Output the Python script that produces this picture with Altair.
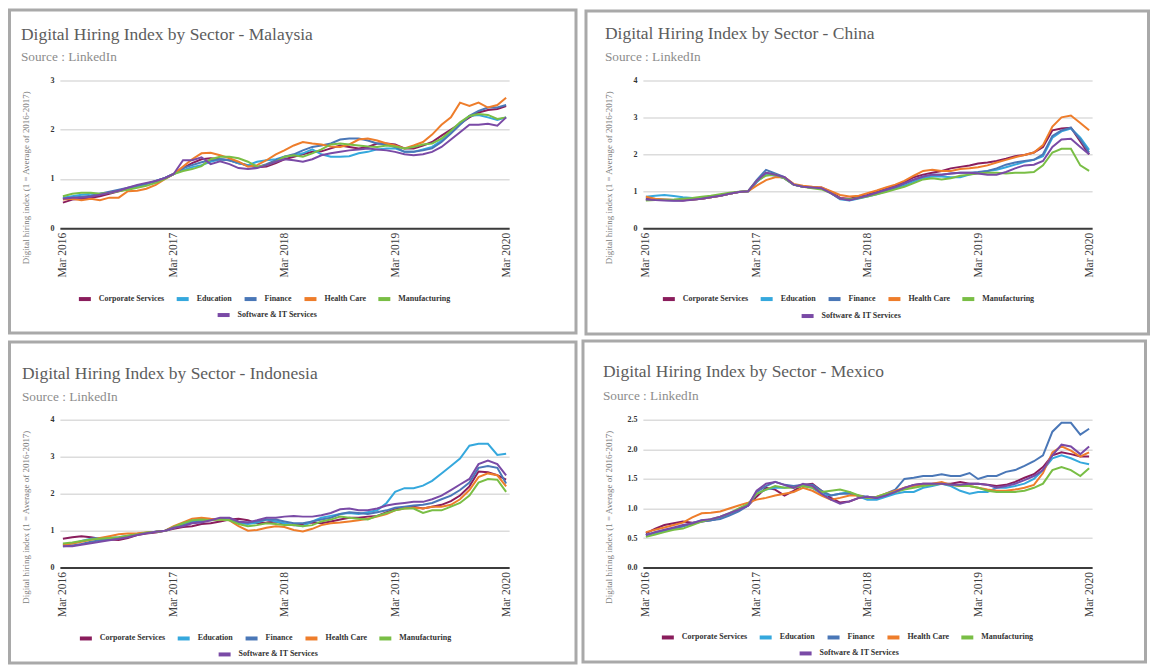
import altair as alt
import pandas as pd

SERIF = "Liberation Serif"
SECTORS = ["Corporate Services", "Education", "Finance", "Health Care",
           "Manufacturing", "Software & IT Services"]
COLORS = ["#8a1d5c", "#35a8dd", "#4a77b7", "#ee7d2b", "#79be45", "#7a4aa6"]
YEARS = [2016, 2017, 2018, 2019, 2020]
DATES = pd.date_range("2016-03-01", periods=49, freq="MS")
Y_TITLE = "Digital hiring index (1 = Average of 2016-2017)"
SUBTITLE = "Source : LinkedIn"

# ---------------- Malaysia ----------------
MY_CORP = [0.52, 0.58, 0.60, 0.62, 0.65, 0.70, 0.75, 0.80, 0.85, 0.90, 0.95, 1.02,
           1.10, 1.22, 1.32, 1.40, 1.42, 1.40, 1.38, 1.32, 1.28, 1.24, 1.25, 1.32,
           1.40, 1.45, 1.50, 1.55, 1.56, 1.62, 1.68, 1.65, 1.62, 1.65, 1.72, 1.72,
           1.70, 1.62, 1.62, 1.68, 1.75, 1.88, 2.00, 2.12, 2.25, 2.35, 2.40, 2.42,
           2.48]
MY_EDU = [0.62, 0.65, 0.68, 0.70, 0.70, 0.72, 0.76, 0.80, 0.84, 0.90, 0.96, 1.02,
          1.10, 1.18, 1.24, 1.28, 1.35, 1.40, 1.38, 1.32, 1.28, 1.35, 1.38, 1.40,
          1.45, 1.48, 1.52, 1.60, 1.50, 1.45, 1.45, 1.46, 1.52, 1.55, 1.60, 1.62,
          1.62, 1.55, 1.55, 1.60, 1.65, 1.78, 1.95, 2.12, 2.28, 2.30, 2.25, 2.20,
          2.25]
MY_FIN = [0.60, 0.62, 0.64, 0.66, 0.70, 0.74, 0.78, 0.82, 0.86, 0.90, 0.96, 1.02,
          1.10, 1.22, 1.28, 1.34, 1.38, 1.40, 1.38, 1.34, 1.26, 1.24, 1.30, 1.38,
          1.45, 1.50, 1.58, 1.65, 1.68, 1.72, 1.80, 1.82, 1.82, 1.78, 1.72, 1.70,
          1.65, 1.55, 1.55, 1.58, 1.62, 1.75, 1.92, 2.10, 2.28, 2.38, 2.45, 2.45,
          2.50]
MY_HEALTH = [0.58, 0.60, 0.57, 0.60, 0.57, 0.62, 0.62, 0.75, 0.76, 0.80, 0.88, 1.00,
             1.10, 1.25, 1.40, 1.52, 1.53, 1.48, 1.42, 1.35, 1.25, 1.28, 1.38, 1.50,
             1.58, 1.68, 1.75, 1.72, 1.70, 1.66, 1.65, 1.70, 1.80, 1.82, 1.78, 1.72,
             1.68, 1.62, 1.68, 1.75, 1.90, 2.10, 2.25, 2.55, 2.48, 2.55, 2.45, 2.50,
             2.65]
MY_MFG = [0.65, 0.70, 0.72, 0.72, 0.70, 0.72, 0.75, 0.78, 0.82, 0.86, 0.92, 1.00,
          1.10, 1.16, 1.20, 1.26, 1.40, 1.45, 1.45, 1.42, 1.35, 1.25, 1.28, 1.35,
          1.45, 1.48, 1.45, 1.52, 1.60, 1.70, 1.72, 1.70, 1.68, 1.66, 1.65, 1.68,
          1.66, 1.62, 1.65, 1.70, 1.72, 1.82, 1.98, 2.15, 2.28, 2.32, 2.30, 2.22,
          2.25]
MY_SW = [0.60, 0.62, 0.62, 0.64, 0.68, 0.72, 0.76, 0.82, 0.88, 0.92, 0.96, 1.02,
         1.10, 1.38, 1.38, 1.44, 1.30, 1.36, 1.30, 1.22, 1.20, 1.22, 1.28, 1.35,
         1.40, 1.38, 1.35, 1.40, 1.48, 1.52, 1.55, 1.58, 1.60, 1.62, 1.60, 1.58,
         1.55, 1.50, 1.48, 1.50, 1.55, 1.65, 1.80, 1.95, 2.10, 2.10, 2.12, 2.08,
         2.25]

# ---------------- China ----------------
CN_CORP = [0.80, 0.78, 0.77, 0.76, 0.75, 0.78, 0.80, 0.84, 0.88, 0.93, 0.98, 1.00,
           1.25, 1.50, 1.45, 1.35, 1.18, 1.12, 1.10, 1.10, 0.98, 0.82, 0.80, 0.85,
           0.90, 1.00, 1.08, 1.15, 1.25, 1.38, 1.45, 1.50, 1.55, 1.62, 1.66, 1.70,
           1.75, 1.78, 1.82, 1.88, 1.95, 1.98, 2.05, 2.20, 2.65, 2.70, 2.72, 2.35,
           2.00]
CN_EDU = [0.85, 0.88, 0.90, 0.87, 0.84, 0.82, 0.82, 0.85, 0.88, 0.93, 0.98, 1.00,
          1.25, 1.45, 1.42, 1.35, 1.18, 1.12, 1.10, 1.08, 0.95, 0.78, 0.75, 0.80,
          0.86, 0.92, 1.00, 1.08, 1.15, 1.25, 1.35, 1.40, 1.40, 1.38, 1.38, 1.45,
          1.50, 1.55, 1.58, 1.65, 1.72, 1.80, 1.85, 1.95, 2.45, 2.62, 2.70, 2.45,
          2.12]
CN_FIN = [0.78, 0.78, 0.76, 0.75, 0.76, 0.78, 0.80, 0.84, 0.88, 0.93, 0.98, 1.00,
          1.30, 1.58, 1.48, 1.38, 1.18, 1.12, 1.10, 1.08, 0.95, 0.80, 0.78, 0.82,
          0.88, 0.95, 1.02, 1.10, 1.20, 1.30, 1.40, 1.45, 1.45, 1.48, 1.50, 1.50,
          1.52, 1.55, 1.62, 1.72, 1.78, 1.82, 1.85, 2.00, 2.50, 2.65, 2.72, 2.40,
          2.05]
CN_HEALTH = [0.85, 0.80, 0.78, 0.76, 0.76, 0.78, 0.80, 0.84, 0.88, 0.93, 0.98, 1.00,
             1.15, 1.30, 1.38, 1.38, 1.20, 1.15, 1.12, 1.10, 1.00, 0.90, 0.86, 0.88,
             0.95, 1.02, 1.10, 1.18, 1.28, 1.42, 1.55, 1.58, 1.55, 1.55, 1.60, 1.62,
             1.65, 1.70, 1.78, 1.85, 1.92, 1.98, 2.05, 2.25, 2.75, 3.00, 3.05, 2.85,
             2.65]
CN_MFG = [0.75, 0.76, 0.77, 0.78, 0.80, 0.82, 0.85, 0.88, 0.92, 0.96, 0.99, 1.00,
          1.28, 1.42, 1.45, 1.35, 1.18, 1.12, 1.08, 1.05, 0.95, 0.80, 0.78, 0.82,
          0.86, 0.92, 0.98, 1.05, 1.12, 1.22, 1.32, 1.35, 1.32, 1.35, 1.42, 1.45,
          1.48, 1.50, 1.50, 1.48, 1.50, 1.50, 1.52, 1.70, 2.05, 2.15, 2.15, 1.70,
          1.55]
CN_SW = [0.78, 0.76, 0.75, 0.74, 0.74, 0.77, 0.80, 0.84, 0.88, 0.93, 0.98, 1.00,
         1.28, 1.50, 1.45, 1.38, 1.18, 1.12, 1.10, 1.08, 0.95, 0.80, 0.76, 0.82,
         0.88, 0.96, 1.04, 1.12, 1.22, 1.32, 1.40, 1.45, 1.45, 1.48, 1.50, 1.50,
         1.48, 1.45, 1.45, 1.52, 1.62, 1.70, 1.72, 1.82, 2.20, 2.40, 2.42, 2.20,
         2.00]

# ---------------- Indonesia ----------------
ID_CORP = [0.78, 0.82, 0.85, 0.82, 0.78, 0.76, 0.75, 0.80, 0.88, 0.92, 0.95, 1.00,
           1.05, 1.10, 1.12, 1.18, 1.20, 1.25, 1.30, 1.32, 1.28, 1.20, 1.22, 1.25,
           1.18, 1.15, 1.18, 1.22, 1.20, 1.25, 1.30, 1.35, 1.35, 1.38, 1.40, 1.50,
           1.58, 1.62, 1.65, 1.60, 1.65, 1.70, 1.80, 1.95, 2.20, 2.60, 2.58, 2.50,
           2.38]
ID_EDU = [0.62, 0.65, 0.72, 0.78, 0.80, 0.80, 0.82, 0.86, 0.90, 0.94, 0.97, 1.00,
          1.08, 1.18, 1.25, 1.28, 1.30, 1.32, 1.30, 1.20, 1.18, 1.22, 1.30, 1.25,
          1.20, 1.15, 1.12, 1.25, 1.35, 1.40, 1.45, 1.48, 1.45, 1.50, 1.55, 1.75,
          2.05, 2.15, 2.15, 2.22, 2.35, 2.55, 2.75, 2.95, 3.30, 3.35, 3.35, 3.05,
          3.08]
ID_FIN = [0.58, 0.60, 0.64, 0.70, 0.74, 0.76, 0.80, 0.84, 0.90, 0.94, 0.97, 1.00,
          1.08, 1.15, 1.22, 1.25, 1.28, 1.32, 1.30, 1.22, 1.22, 1.25, 1.30, 1.30,
          1.25, 1.20, 1.20, 1.25, 1.30, 1.35, 1.45, 1.50, 1.48, 1.45, 1.50, 1.55,
          1.62, 1.65, 1.68, 1.70, 1.75, 1.85, 1.95, 2.10, 2.30, 2.70, 2.75, 2.70,
          2.28]
ID_HEALTH = [0.62, 0.65, 0.70, 0.75, 0.80, 0.85, 0.90, 0.92, 0.93, 0.95, 0.97, 1.00,
             1.12, 1.22, 1.32, 1.35, 1.32, 1.30, 1.28, 1.12, 1.00, 1.02, 1.08, 1.12,
             1.10, 1.02, 0.98, 1.05, 1.15, 1.20, 1.22, 1.25, 1.28, 1.32, 1.38, 1.45,
             1.55, 1.60, 1.62, 1.60, 1.65, 1.65, 1.70, 1.85, 2.10, 2.45, 2.55, 2.50,
             2.20]
ID_MFG = [0.65, 0.68, 0.72, 0.76, 0.78, 0.80, 0.82, 0.86, 0.90, 0.95, 0.97, 1.00,
          1.10, 1.20, 1.28, 1.30, 1.28, 1.30, 1.28, 1.18, 1.12, 1.15, 1.20, 1.18,
          1.15, 1.15, 1.12, 1.15, 1.25, 1.30, 1.38, 1.35, 1.32, 1.30, 1.40, 1.48,
          1.55, 1.60, 1.60, 1.48, 1.55, 1.55, 1.65, 1.75, 1.95, 2.30, 2.40, 2.38,
          2.05]
ID_SW = [0.58, 0.58, 0.62, 0.66, 0.70, 0.74, 0.78, 0.82, 0.88, 0.93, 0.97, 1.00,
         1.08, 1.12, 1.20, 1.22, 1.28, 1.35, 1.35, 1.25, 1.22, 1.28, 1.35, 1.35,
         1.38, 1.40, 1.38, 1.38, 1.42, 1.48, 1.58, 1.60, 1.55, 1.55, 1.60, 1.68,
         1.72, 1.75, 1.78, 1.78, 1.85, 1.95, 2.10, 2.25, 2.40, 2.80, 2.90, 2.80,
         2.50]

# ---------------- Mexico ----------------
MX_CORP = [0.58, 0.66, 0.72, 0.75, 0.78, 0.76, 0.78, 0.80, 0.84, 0.90, 0.98, 1.05,
           1.20, 1.35, 1.32, 1.22, 1.30, 1.40, 1.42, 1.30, 1.18, 1.10, 1.12, 1.18,
           1.20, 1.18, 1.22, 1.28, 1.35, 1.40, 1.42, 1.42, 1.42, 1.42, 1.45, 1.42,
           1.42, 1.40, 1.38, 1.40, 1.45, 1.52, 1.58, 1.70, 1.90, 1.95, 1.92, 1.88,
           1.88]
MX_EDU = [0.55, 0.58, 0.62, 0.66, 0.70, 0.75, 0.80, 0.80, 0.84, 0.90, 0.98, 1.05,
          1.25, 1.32, 1.35, 1.35, 1.38, 1.38, 1.35, 1.25, 1.22, 1.25, 1.28, 1.20,
          1.15, 1.15, 1.20, 1.25, 1.28, 1.28, 1.35, 1.38, 1.42, 1.38, 1.30, 1.25,
          1.28, 1.28, 1.35, 1.35, 1.38, 1.42, 1.50, 1.65, 1.85, 1.90, 1.85, 1.78,
          1.75]
MX_FIN = [0.55, 0.60, 0.63, 0.66, 0.70, 0.74, 0.78, 0.80, 0.82, 0.88, 0.95, 1.05,
          1.28, 1.38, 1.45, 1.40, 1.38, 1.40, 1.40, 1.30, 1.22, 1.25, 1.25, 1.22,
          1.20, 1.18, 1.25, 1.32, 1.50, 1.52, 1.55, 1.55, 1.58, 1.55, 1.55, 1.60,
          1.50, 1.55, 1.55, 1.62, 1.65, 1.72, 1.80, 1.90, 2.30, 2.45, 2.45, 2.25,
          2.35]
MX_HEALTH = [0.60, 0.64, 0.68, 0.72, 0.76, 0.85, 0.92, 0.93, 0.95, 1.00, 1.05, 1.10,
             1.15, 1.18, 1.22, 1.25, 1.28, 1.35, 1.30, 1.22, 1.15, 1.18, 1.22, 1.22,
             1.18, 1.20, 1.25, 1.30, 1.35, 1.38, 1.40, 1.42, 1.45, 1.40, 1.38, 1.38,
             1.35, 1.32, 1.30, 1.30, 1.32, 1.35, 1.40, 1.60, 1.95, 2.05, 1.98, 1.88,
             1.95]
MX_MFG = [0.52, 0.56, 0.60, 0.64, 0.66, 0.72, 0.78, 0.82, 0.86, 0.92, 1.00, 1.08,
          1.25, 1.32, 1.38, 1.35, 1.35, 1.38, 1.35, 1.28, 1.30, 1.32, 1.28, 1.22,
          1.18, 1.20, 1.25, 1.28, 1.32, 1.35, 1.38, 1.40, 1.42, 1.40, 1.38, 1.38,
          1.35, 1.30, 1.28, 1.28, 1.28, 1.30, 1.35, 1.42, 1.65, 1.70, 1.65, 1.55,
          1.68]
MX_SW = [0.55, 0.60, 0.64, 0.68, 0.72, 0.75, 0.80, 0.82, 0.86, 0.92, 0.98, 1.05,
         1.30, 1.42, 1.45, 1.40, 1.35, 1.42, 1.38, 1.25, 1.15, 1.08, 1.12, 1.18,
         1.20, 1.18, 1.22, 1.28, 1.35, 1.40, 1.42, 1.42, 1.42, 1.40, 1.40, 1.42,
         1.42, 1.40, 1.35, 1.38, 1.42, 1.48, 1.55, 1.65, 1.90, 2.08, 2.05, 1.92,
         2.05]

PANELS = [
    dict(title="Digital Hiring Index by Sector - Malaysia",
         series=[MY_CORP, MY_EDU, MY_FIN, MY_HEALTH, MY_MFG, MY_SW],
         ymax=3, yticks=[0, 1, 2, 3], yfmt="d",
         origin=(60, 80), box=(8, 8, 581.5, 337.5), frame=(9.5, 9.5, 577, 333),
         title_xy=(21, 39), sub_xy=(21, 61), leg1=(17, 211), leg2=(156, 227)),
    dict(title="Digital Hiring Index by Sector - China",
         series=[CN_CORP, CN_EDU, CN_FIN, CN_HEALTH, CN_MFG, CN_SW],
         ymax=4, yticks=[0, 1, 2, 3, 4], yfmt="d",
         origin=(640, 79), box=(581.5, 8, 1148, 337.5), frame=(583, 9.5, 1146.5, 333),
         title_xy=(602, 37), sub_xy=(602, 60), leg1=(18, 211), leg2=(157, 228)),
    dict(title="Digital Hiring Index by Sector - Indonesia",
         series=[ID_CORP, ID_EDU, ID_FIN, ID_HEALTH, ID_MFG, ID_SW],
         ymax=4, yticks=[0, 1, 2, 3, 4], yfmt="d",
         origin=(60, 417), box=(8, 337.5, 581.5, 662), frame=(9.5, 339, 577, 660.5),
         title_xy=(22, 376), sub_xy=(22, 398), leg1=(18, 211), leg2=(157, 227)),
    dict(title="Digital Hiring Index by Sector - Mexico",
         series=[MX_CORP, MX_EDU, MX_FIN, MX_HEALTH, MX_MFG, MX_SW],
         ymax=2.5, yticks=[0, 0.5, 1, 1.5, 2, 2.5], yfmt=".1f",
         origin=(643, 418), box=(581.5, 337.5, 1148, 662), frame=(583, 339, 1146.5, 660.5),
         title_xy=(603, 375), sub_xy=(603, 398), leg1=(17, 210), leg2=(155, 226)),
]

for p in PANELS:
    for s in p["series"]:
        assert len(s) == 49, (p["title"], len(s))


def legend(pos):
    return alt.Legend(title=None, orient="none", legendX=pos[0], legendY=pos[1],
                      direction="horizontal", symbolType="stroke", symbolSize=144,
                      symbolStrokeWidth=4, labelFont=SERIF, labelFontSize=8,
                      labelFontWeight="bold", labelColor="#333333", labelOffset=6,
                      columnPadding=4, padding=0)


def value_rect(rect, origin):
    ox, oy = origin
    return dict(x=alt.value(rect[0] - ox), x2=alt.value(rect[2] - ox),
                y=alt.value(rect[1] - oy), y2=alt.value(rect[3] - oy))


def make_panel(p):
    ox, oy = p["origin"]
    rows = [{"date": d, "sector": s, "value": v}
            for s, vals in zip(SECTORS, p["series"]) for d, v in zip(DATES, vals)]
    df = pd.DataFrame(rows)

    x = alt.X("date:T", title=None, scale=alt.Scale(padding=3, nice=False),
              axis=alt.Axis(values=[alt.DateTime(year=yr, month=3, date=1) for yr in YEARS],
                            format="%b %Y", labelAngle=-90, grid=False, ticks=False,
                            domainColor="#3c3c3c", domainWidth=2, labelFont=SERIF,
                            labelFontSize=11.5, labelColor="#3d3d3d", labelPadding=4,
                            labelOverlap=False, labelBound=False, labelFlush=False))
    y = alt.Y("value:Q", title=Y_TITLE,
              scale=alt.Scale(domain=[0, p["ymax"]], nice=False, zero=True),
              axis=alt.Axis(values=p["yticks"], format=p["yfmt"], domain=False, ticks=False,
                            grid=True, gridColor="#dcdcdc", gridWidth=1.5,
                            labelFont=SERIF, labelFontSize=8, labelFontWeight="bold",
                            labelColor="#333333", labelPadding=6,
                            titleFont=SERIF, titleFontSize=9, titleFontWeight="normal",
                            titleColor="#7a7a7a", titleX=-34, titleY=97, titleAngle=-90,
                            titleAlign="center", titleBaseline="middle"))

    main = alt.Chart(df).transform_filter(
        alt.FieldOneOfPredicate(field="sector", oneOf=SECTORS[:5])
    ).mark_line(strokeWidth=2).encode(
        x=x, y=y,
        color=alt.Color("sector:N", sort=SECTORS[:5],
                        scale=alt.Scale(domain=SECTORS[:5], range=COLORS[:5]),
                        legend=legend(p["leg1"])),
    )
    sw = alt.Chart(df).transform_filter(
        alt.FieldEqualPredicate(field="sector", equal=SECTORS[5])
    ).mark_line(strokeWidth=2).encode(
        x=x, y=y,
        color=alt.Color("sector:N",
                        scale=alt.Scale(domain=SECTORS[5:], range=COLORS[5:]),
                        legend=legend(p["leg2"])),
    )

    one = pd.DataFrame({"t": [""]})
    box = alt.Chart(one).mark_rect(opacity=0).encode(**value_rect(p["box"], p["origin"]))
    frame = alt.Chart(one).mark_rect(fillOpacity=0, stroke="#a9a9a9", strokeWidth=3).encode(
        **value_rect(p["frame"], p["origin"]))
    title = alt.Chart(pd.DataFrame({"t": [p["title"]]})).mark_text(
        align="left", baseline="alphabetic", font=SERIF, fontSize=17.5, color="#5d5d5d"
    ).encode(x=alt.value(p["title_xy"][0] - ox), y=alt.value(p["title_xy"][1] - oy), text="t:N")
    sub = alt.Chart(pd.DataFrame({"t": [SUBTITLE]})).mark_text(
        align="left", baseline="alphabetic", font=SERIF, fontSize=13.3, color="#8c8c8c"
    ).encode(x=alt.value(p["sub_xy"][0] - ox), y=alt.value(p["sub_xy"][1] - oy), text="t:N")

    return alt.layer(box, frame, main, sw, title, sub).resolve_scale(
        color="independent").properties(width=450, height=148)


chart = alt.concat(*[make_panel(p) for p in PANELS], columns=2, spacing=0).resolve_scale(
    color="independent", x="independent", y="independent"
).properties(padding=0, background="white").configure_view(strokeWidth=0)

chart.save("out.html", embed_options={"renderer": "svg", "actions": False})
